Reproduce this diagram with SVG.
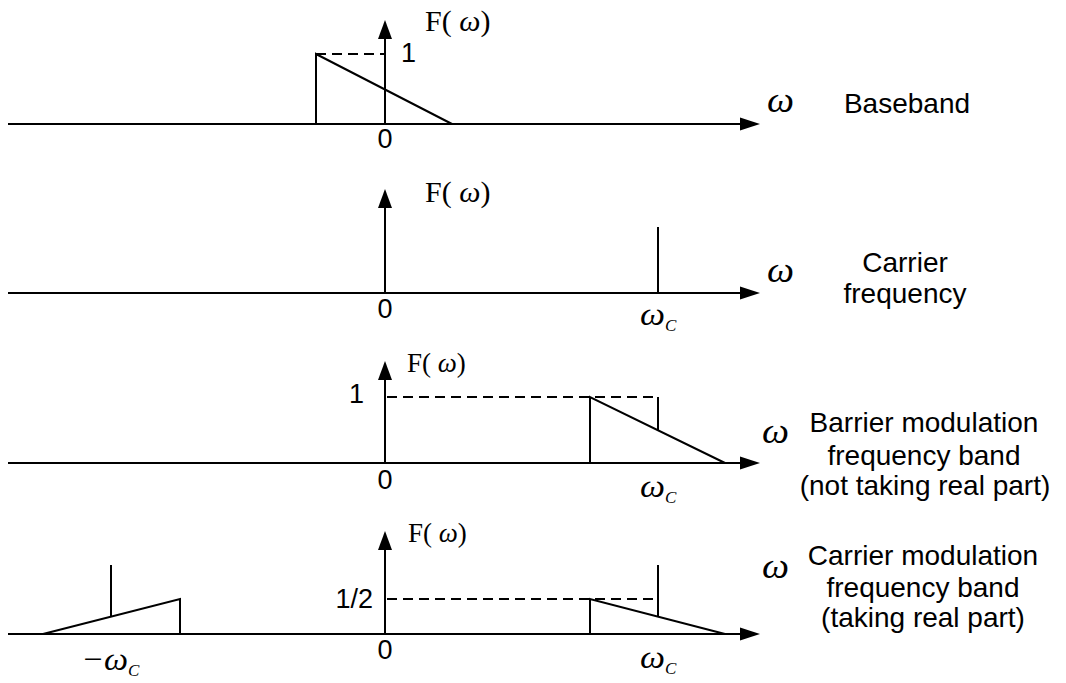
<svg xmlns="http://www.w3.org/2000/svg" width="1066" height="683" viewBox="0 0 1066 683">
<style>
.ln{stroke:#000;stroke-width:2;fill:none}
.ds{stroke:#000;stroke-width:2;fill:none;stroke-dasharray:10 6}
.ah{fill:#000;stroke:none}
.num{font-family:"Liberation Sans",Arial,sans-serif;font-size:27px;fill:#000}
.lab{font-family:"Liberation Sans",Arial,sans-serif;font-size:28px;fill:#000;text-anchor:middle}
.ser{font-family:"Liberation Serif","Times New Roman",serif;fill:#000}
.it{font-style:italic}
.om{font-family:"Liberation Serif","Times New Roman",serif;font-style:italic;font-size:36px;fill:#000}
.oc{font-family:"Liberation Serif","Times New Roman",serif;font-style:italic;font-size:32px;fill:#000}
.sub{font-family:"Liberation Serif","Times New Roman",serif;font-style:italic;font-size:17px;fill:#000}
</style>
<rect width="1066" height="683" fill="#fff"/>

<g id="panel1">
  <line class="ln" x1="8" y1="124" x2="745" y2="124"/>
  <polygon class="ah" points="760,124 740,117.5 740,130.5"/>
  <line class="ln" x1="385" y1="124" x2="385" y2="36"/>
  <polygon class="ah" points="385,20 378,39 392,39"/>
  <polyline class="ln" points="316,124 316,54 452,124"/>
  <line class="ds" x1="316" y1="54" x2="385" y2="54"/>
  <text class="ser" x="425" y="31" font-size="30">F(<tspan class="it"> ω</tspan>)</text>
  <text class="num" x="401" y="62">1</text>
  <text class="num" x="385" y="148" text-anchor="middle">0</text>
  <text class="om" x="767" y="112" textLength="27" lengthAdjust="spacingAndGlyphs">ω</text>
  <text class="lab" x="907" y="113">Baseband</text>
</g>

<g id="panel2">
  <line class="ln" x1="8" y1="293" x2="745" y2="293"/>
  <polygon class="ah" points="760,293 740,286.5 740,299.5"/>
  <line class="ln" x1="385" y1="293" x2="385" y2="205"/>
  <polygon class="ah" points="385,189 378,208 392,208"/>
  <line class="ln" x1="658" y1="293" x2="658" y2="227"/>
  <text class="ser" x="425" y="202" font-size="30">F(<tspan class="it"> ω</tspan>)</text>
  <text class="num" x="385" y="318" text-anchor="middle">0</text>
  <text class="oc" x="640" y="325" textLength="25" lengthAdjust="spacingAndGlyphs">ω</text>
  <text class="sub" x="665" y="331">C</text>
  <text class="om" x="767" y="282" textLength="27" lengthAdjust="spacingAndGlyphs">ω</text>
  <text class="lab" x="905" y="272">Carrier</text>
  <text class="lab" x="905" y="303">frequency</text>
</g>

<g id="panel3">
  <line class="ln" x1="8" y1="463" x2="745" y2="463"/>
  <polygon class="ah" points="760,463 740,456.5 740,469.5"/>
  <line class="ln" x1="385" y1="463" x2="385" y2="377"/>
  <polygon class="ah" points="385,361 378,380 392,380"/>
  <line class="ds" x1="387" y1="397" x2="658" y2="397"/>
  <polyline class="ln" points="590,463 590,397 725,463"/>
  <line class="ln" x1="658" y1="397" x2="658" y2="430"/>
  <text class="ser" x="407" y="372" font-size="27">F(<tspan class="it"> ω</tspan>)</text>
  <text class="num" x="364" y="403" text-anchor="end">1</text>
  <text class="num" x="385" y="489" text-anchor="middle">0</text>
  <text class="oc" x="640" y="497" textLength="25" lengthAdjust="spacingAndGlyphs">ω</text>
  <text class="sub" x="665" y="503">C</text>
  <text class="om" x="762" y="443" textLength="27" lengthAdjust="spacingAndGlyphs">ω</text>
  <text class="lab" x="924" y="432">Barrier modulation</text>
  <text class="lab" x="924" y="465">frequency band</text>
  <text class="lab" x="925" y="495">(not taking real part)</text>
</g>

<g id="panel4">
  <line class="ln" x1="8" y1="634" x2="745" y2="634"/>
  <polygon class="ah" points="760,634 740,627.5 740,640.5"/>
  <line class="ln" x1="385" y1="634" x2="385" y2="547"/>
  <polygon class="ah" points="385,531 378,550 392,550"/>
  <line class="ds" x1="387" y1="599" x2="658" y2="599"/>
  <polyline class="ln" points="590,634 590,599 725,634"/>
  <line class="ln" x1="658" y1="565" x2="658" y2="617"/>
  <polyline class="ln" points="43,634 180,599 180,634"/>
  <line class="ln" x1="111" y1="565" x2="111" y2="617"/>
  <text class="ser" x="408" y="542" font-size="27">F(<tspan class="it"> ω</tspan>)</text>
  <text class="num" x="373" y="608" text-anchor="end">1/2</text>
  <text class="num" x="385" y="659" text-anchor="middle">0</text>
  <text class="oc" x="640" y="668" textLength="25" lengthAdjust="spacingAndGlyphs">ω</text>
  <text class="sub" x="665" y="674">C</text>
  <text class="oc" x="81" y="670" textLength="47" lengthAdjust="spacingAndGlyphs">−ω</text>
  <text class="sub" x="128" y="676">C</text>
  <text class="om" x="762" y="578" textLength="27" lengthAdjust="spacingAndGlyphs">ω</text>
  <text class="lab" x="923" y="565">Carrier modulation</text>
  <text class="lab" x="923" y="597">frequency band</text>
  <text class="lab" x="923" y="627">(taking real part)</text>
</g>
</svg>
